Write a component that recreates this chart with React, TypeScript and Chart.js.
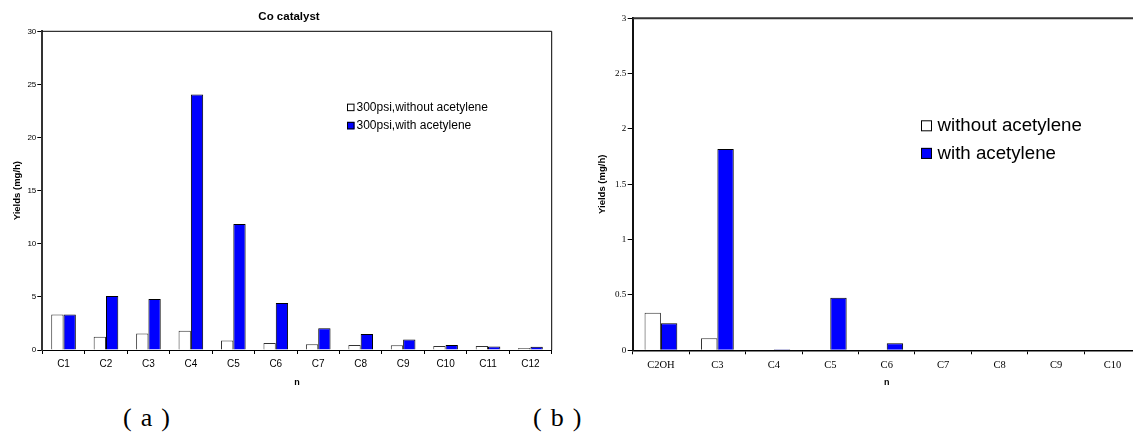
import React, { useEffect, useRef } from 'react';
import { Chart, registerables } from 'chart.js';

Chart.register(...registerables);

// ---------- data ----------
const categoriesA = ['C1', 'C2', 'C3', 'C4', 'C5', 'C6', 'C7', 'C8', 'C9', 'C10', 'C11', 'C12'];
const withoutA = [3.35, 1.25, 1.55, 1.82, 0.9, 0.65, 0.55, 0.48, 0.45, 0.38, 0.38, 0.2];
const withA = [3.35, 5.08, 4.8, 24.05, 11.85, 4.42, 2.05, 1.5, 1.0, 0.47, 0.33, 0.3];
const yTicksA = [0, 5, 10, 15, 20, 25, 30];
const legendA = ['300psi,without acetylene', '300psi,with acetylene'];

const categoriesB = ['C2OH', 'C3', 'C4', 'C5', 'C6', 'C7', 'C8', 'C9', 'C10'];
const withoutB = [0.34, 0.108, 0, 0, 0, 0, 0, 0, 0];
const withB = [0.245, 1.82, 0.01, 0.475, 0.063, 0, 0, 0, 0];
const yTicksB = [0, 0.5, 1, 1.5, 2, 2.5, 3];
const legendB = ['without acetylene', 'with acetylene'];

const panelLabels = ['( a )', '( b )'];

// ---------- plugins ----------
const framePlugin = {
  id: 'frame',
  afterDraw(chart: any, _args: any, o: any) {
    const { ctx, chartArea } = chart;
    const { left, top, right, bottom } = chartArea;
    ctx.save();
    ctx.strokeStyle = o.color || '#000';
    ctx.lineWidth = o.width || 1;
    ctx.beginPath();
    ctx.moveTo(left, top);
    ctx.lineTo(right, top);
    ctx.lineTo(right, bottom);
    ctx.stroke();
    ctx.restore();
  },
};

const boxLegendPlugin = {
  id: 'boxLegend',
  afterDraw(chart: any, _args: any, o: any) {
    if (!o || !o.display) return;
    const ctx = chart.ctx;
    ctx.save();
    ctx.font = `${o.size}px ${o.family}`;
    ctx.textBaseline = 'middle';
    ctx.textAlign = 'left';
    chart.data.datasets.forEach((ds: any, i: number) => {
      const cy = o.y + i * o.row;
      const bx = o.x;
      const by = cy - o.box / 2;
      ctx.fillStyle = ds.backgroundColor;
      ctx.fillRect(bx, by, o.box, o.box);
      ctx.strokeStyle = '#000';
      ctx.lineWidth = 1;
      ctx.strokeRect(bx + 0.5, by + 0.5, o.box - 1, o.box - 1);
      ctx.fillStyle = '#000';
      ctx.fillText(ds.label, bx + o.box + o.gap, cy);
    });
    ctx.restore();
  },
};

const SANS = "'Liberation Sans', Arial, sans-serif";
const SERIF = "'Liberation Serif', 'Times New Roman', serif";

function makeDatasets(labels: string[], without: number[], withv: number[]) {
  return [
    {
      label: labels[0],
      data: without,
      backgroundColor: '#ffffff',
      borderColor: '#333333',
      borderWidth: 1,
      barPercentage: 1,
      categoryPercentage: 0.58,
    },
    {
      label: labels[1],
      data: withv,
      backgroundColor: '#0000ff',
      borderColor: '#000000',
      borderWidth: 1,
      barPercentage: 1,
      categoryPercentage: 0.58,
    },
  ];
}

function ChartA() {
  const ref = useRef<HTMLCanvasElement>(null);
  useEffect(() => {
    const chart = new Chart(ref.current as HTMLCanvasElement, {
      type: 'bar',
      data: { labels: categoriesA, datasets: makeDatasets(legendA, withoutA, withA) as any },
      plugins: [framePlugin, boxLegendPlugin],
      options: {
        responsive: false,
        animation: false,
        devicePixelRatio: 1,
        layout: { padding: { left: 0, right: 0, top: 0, bottom: 11.9 } },
        plugins: {
          legend: { display: false },
          tooltip: { enabled: false },
          title: {
            display: true,
            text: 'Co catalyst',
            color: '#000',
            font: { family: SANS, size: 11.5, weight: 'bold' },
            padding: { top: 10.1, bottom: 7.4 },
          },
          frame: { color: '#000', width: 1 },
          boxLegend: { display: true, x: 347, y: 107.4, row: 18.2, box: 7.5, gap: 2, size: 12, family: SANS },
        } as any,
        scales: {
          x: {
            type: 'category',
            offset: true,
            grid: { offset: true, drawOnChartArea: false, drawTicks: true, tickLength: 4, color: '#000', lineWidth: 1 },
            border: { display: true, color: '#000', width: 1 },
            ticks: { font: { family: SANS, size: 10 }, color: '#000', padding: 4.3, maxRotation: 0, autoSkip: false },
            title: { display: true, text: 'n', color: '#000', font: { family: SANS, size: 9, weight: 'bold' }, padding: { top: 0, bottom: 0 } },
            afterFit: (s: any) => { s.height = 38.1; },
          },
          y: {
            type: 'linear',
            min: 0,
            max: 30,
            afterBuildTicks: (s: any) => { s.ticks = yTicksA.map((v) => ({ value: v })); },
            grid: { drawOnChartArea: false, drawTicks: true, tickLength: 5, color: '#000', lineWidth: 1 },
            border: { display: true, color: '#333', width: 2 },
            ticks: { font: { family: SANS, size: 8 }, color: '#000', padding: 1, callback: (v: any) => String(v) },
            title: { display: true, text: 'Yields (mg/h)', color: '#000', font: { family: SANS, size: 9.5, weight: 'bold' }, padding: { top: 11.8, bottom: 0 } },
            afterFit: (s: any) => { s.width = 42.3; },
          },
          pad: {
            type: 'linear',
            position: 'right',
            display: true,
            grid: { display: false, drawTicks: false },
            border: { display: false },
            ticks: { display: false },
            afterFit: (s: any) => { s.width = 26.3; },
          },
        } as any,
      },
    });
    return () => chart.destroy();
  }, []);
  return <canvas ref={ref} width={578} height={400} style={{ position: 'absolute', left: 0, top: 0, width: 578, height: 400 }} />;
}

function ChartB() {
  const ref = useRef<HTMLCanvasElement>(null);
  useEffect(() => {
    const chart = new Chart(ref.current as HTMLCanvasElement, {
      type: 'bar',
      data: { labels: categoriesB, datasets: makeDatasets(legendB, withoutB, withB) as any },
      plugins: [framePlugin, boxLegendPlugin],
      options: {
        responsive: false,
        animation: false,
        devicePixelRatio: 1,
        layout: { padding: { left: 0, right: 19.2, top: 18.3, bottom: 11.9 } },
        plugins: {
          legend: { display: false },
          tooltip: { enabled: false },
          title: { display: false },
          frame: { color: '#333', width: 2 },
          boxLegend: { display: true, x: 361, y: 125.8, row: 27.6, box: 11, gap: 5.5, size: 18.7, family: SANS },
        } as any,
        scales: {
          x: {
            type: 'category',
            offset: true,
            grid: { offset: true, drawOnChartArea: false, drawTicks: true, tickLength: 4, color: '#000', lineWidth: 1 },
            border: { display: true, color: '#000', width: 1.5 },
            ticks: { font: { family: SERIF, size: 10.5 }, color: '#000', padding: 4.4, maxRotation: 0, autoSkip: false },
            title: { display: true, text: 'n', color: '#000', font: { family: SANS, size: 9, weight: 'bold' }, padding: { top: 0, bottom: 0 } },
            afterFit: (s: any) => { s.height = 37.8; },
          },
          y: {
            type: 'linear',
            min: 0,
            max: 3,
            afterBuildTicks: (s: any) => { s.ticks = yTicksB.map((v) => ({ value: v })); },
            grid: { drawOnChartArea: false, drawTicks: true, tickLength: 5, color: '#000', lineWidth: 1 },
            border: { display: true, color: '#111', width: 2 },
            ticks: { font: { family: SERIF, size: 9 }, color: '#000', padding: 1.5, callback: (v: any) => String(v) },
            title: { display: true, text: 'Yields (mg/h)', color: '#000', font: { family: SANS, size: 9.5, weight: 'bold' }, padding: { top: 36.3, bottom: 0 } },
            afterFit: (s: any) => { s.width = 72.7; },
          },
        } as any,
      },
    });
    return () => chart.destroy();
  }, []);
  return <canvas ref={ref} width={600} height={400} style={{ position: 'absolute', left: 560, top: 0, width: 600, height: 400 }} />;
}

export default function App() {
  const labelStyle: React.CSSProperties = {
    position: 'absolute',
    top: 404.5,
    fontFamily: SERIF,
    fontSize: 26,
    lineHeight: '26px',
    wordSpacing: 2.5,
    whiteSpace: 'pre',
    color: '#000',
  };
  return (
    <div style={{ position: 'absolute', left: 0, top: 0, width: 1133, height: 433, overflow: 'hidden', background: '#fff' }}>
      <ChartA />
      <ChartB />
      <div style={{ ...labelStyle, left: 123 }}>{panelLabels[0]}</div>
      <div style={{ ...labelStyle, left: 533 }}>{panelLabels[1]}</div>
    </div>
  );
}
